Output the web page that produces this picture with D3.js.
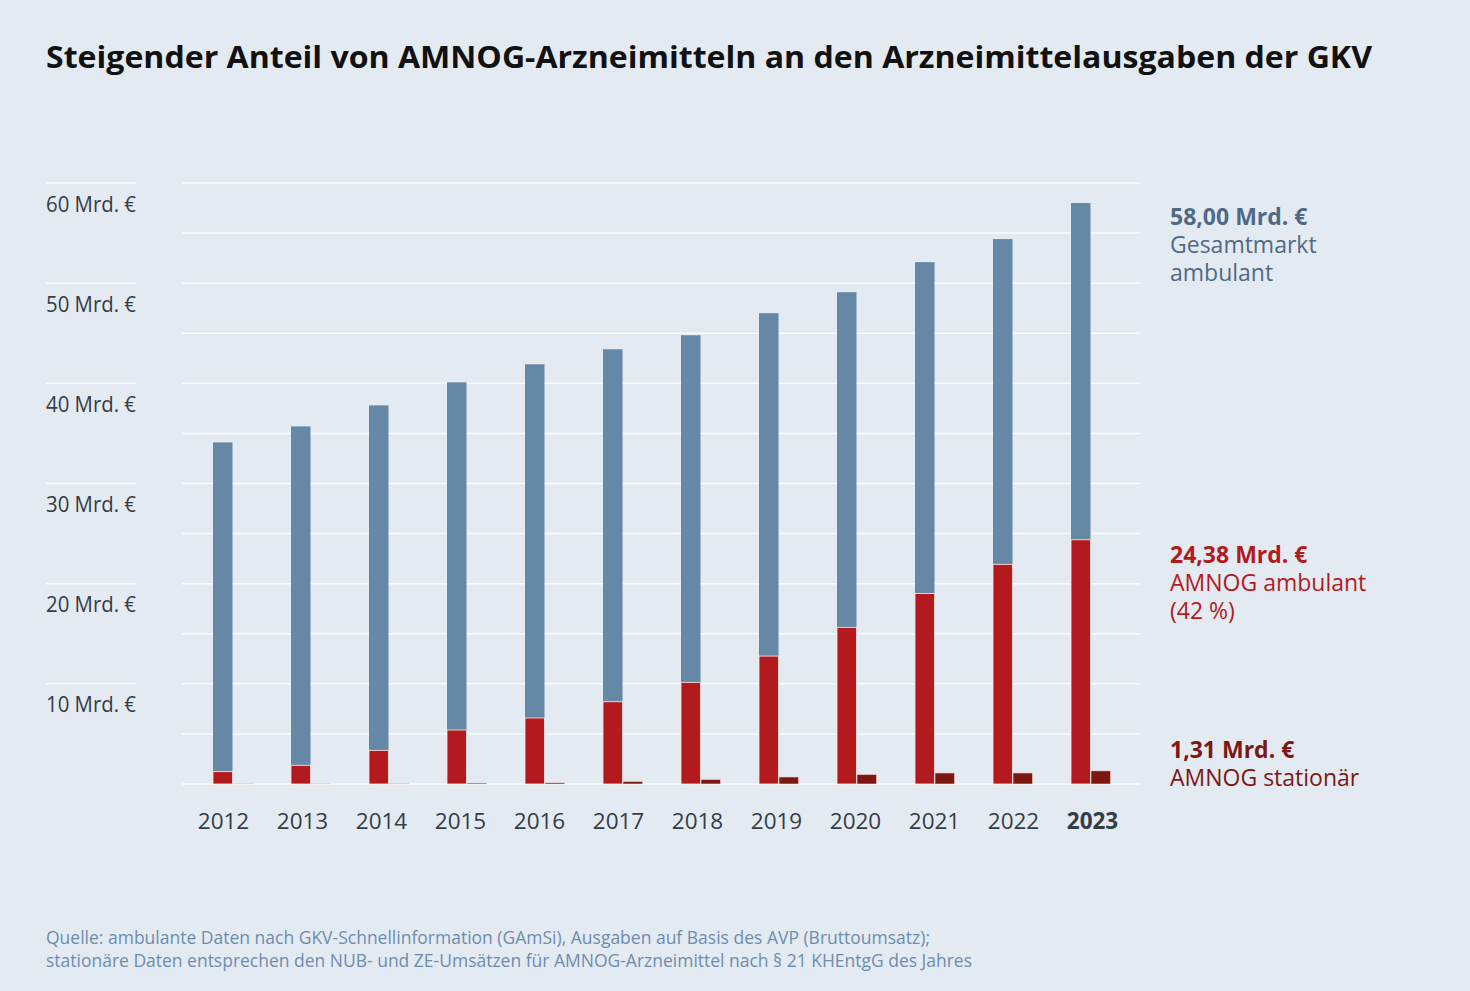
<!DOCTYPE html>
<html lang="de">
<head>
<meta charset="UTF-8">
<title>AMNOG-Arzneimittel</title>
<script src="https://d3js.org/d3.v7.min.js"></script>
<style>
  body { margin: 0; background: #e4eaf2; }
  svg { display: block; font-family: "Open Sans", sans-serif; }
</style>
</head>
<body>
<svg width="1470" height="991"></svg>
<script>
// data (Mrd. €)
const years = ["2012","2013","2014","2015","2016","2017","2018","2019","2020","2021","2022","2023"];
const gesamtAmbulant = [34.1, 35.7, 37.8, 40.1, 41.9, 43.4, 44.8, 47.0, 49.1, 52.1, 54.4, 58.00];
const amnogAmbulant  = [1.23, 1.87, 3.36, 5.39, 6.59, 8.21, 10.15, 12.77, 15.64, 19.03, 21.93, 24.38];
const amnogStationaer = [0.05, 0.05, 0.07, 0.1, 0.12, 0.25, 0.45, 0.7, 0.95, 1.1, 1.1, 1.31];
const yTicks = [10, 20, 30, 40, 50, 60];

const svg = d3.select("svg");
const bg = "#e4eaf2";
svg.append("rect").attr("width", 1470).attr("height", 991).attr("fill", bg);

const y = d3.scaleLinear().domain([0, 60]).range([784, 183]);
const x = d3.scaleBand().domain(years).range([184, 1120]);       // bars
const xLab = d3.scaleBand().domain(years).range([184, 1132]);    // year labels
const bw = 19.5;

// title
svg.append("text")
  .attr("x", 46).attr("y", 68)
  .attr("font-size", 29.5).attr("font-weight", 700).attr("fill", "#111")
  .attr("textLength", 1326).attr("lengthAdjust", "spacingAndGlyphs")
  .text("Steigender Anteil von AMNOG-Arzneimitteln an den Arzneimittelausgaben der GKV");

// gridlines
svg.append("g").selectAll("line")
  .data(d3.range(0, 61, 5))
  .enter().append("line")
  .attr("x1", 182).attr("x2", 1140)
  .attr("y1", d => y(d)).attr("y2", d => y(d))
  .attr("stroke", "#fafcfe").attr("stroke-width", 1.5);

// y labels with short lines above
const yl = svg.append("g").selectAll("g").data(yTicks).enter().append("g");
yl.append("line")
  .attr("x1", 46).attr("x2", 136)
  .attr("y1", d => y(d)).attr("y2", d => y(d))
  .attr("stroke", "#fafcfe").attr("stroke-width", 1.5);
yl.append("text")
  .attr("x", 46).attr("y", d => y(d) + 28.5)
  .attr("font-size", 21).attr("fill", "#333d47")
  .attr("textLength", 90).attr("lengthAdjust", "spacingAndGlyphs")
  .text(d => d + " Mrd. €");

// bars
const bars = svg.append("g").selectAll("g").data(years).enter().append("g");
const cx = d => x(d) + x.bandwidth() / 2;

bars.append("rect")
  .attr("x", d => cx(d) - 10).attr("width", bw)
  .attr("y", (d, i) => y(gesamtAmbulant[i]))
  .attr("height", (d, i) => y(amnogAmbulant[i]) - y(gesamtAmbulant[i]))
  .attr("fill", "#6588a6");

bars.append("rect")
  .attr("x", d => cx(d) - 10).attr("width", bw)
  .attr("y", (d, i) => y(amnogAmbulant[i]))
  .attr("height", (d, i) => y(0) - y(amnogAmbulant[i]))
  .attr("fill", "#b31a1e")
  .attr("stroke", "#fbe9e9").attr("stroke-width", 0.8);

bars.append("rect")
  .attr("x", d => cx(d) + 10).attr("width", bw)
  .attr("y", (d, i) => y(amnogStationaer[i]))
  .attr("height", (d, i) => y(0) - y(amnogStationaer[i]))
  .attr("fill", "#7c1712")
  .attr("stroke", "#f3d9d6").attr("stroke-width", 0.6);

// year labels
svg.append("g").selectAll("text")
  .data(years).enter().append("text")
  .attr("x", d => xLab(d) + xLab.bandwidth() / 2)
  .attr("y", 829)
  .attr("text-anchor", "middle")
  .attr("font-size", 22.5)
  .attr("font-weight", d => d === "2023" ? 700 : 400)
  .attr("fill", "#333d47")
  .text(d => d);

// right annotations
const notes = [
  { y: 224.5, color: "#4f6a86", lines: ["58,00 Mrd. €", "Gesamtmarkt", "ambulant"] },
  { y: 562.5, color: "#b21a1e", lines: ["24,38 Mrd. €", "AMNOG ambulant", "(42 %)"] },
  { y: 757.5, color: "#7c1712", lines: ["1,31 Mrd. €", "AMNOG stationär"] }
];
notes.forEach(n => {
  svg.append("g").selectAll("text")
    .data(n.lines).enter().append("text")
    .attr("x", 1170).attr("y", (d, i) => n.y + i * 28)
    .attr("font-size", 23)
    .attr("font-weight", (d, i) => i === 0 ? 700 : 400)
    .attr("fill", n.color)
    .text(d => d);
});

// source
const source = [
  "Quelle: ambulante Daten nach GKV-Schnellinformation (GAmSi), Ausgaben auf Basis des AVP (Bruttoumsatz);",
  "stationäre Daten entsprechen den NUB- und ZE-Umsätzen für AMNOG-Arzneimittel nach § 21 KHEntgG des Jahres"
];
const sourceLen = [884, 926];
svg.append("g").selectAll("text")
  .data(source).enter().append("text")
  .attr("x", 46).attr("y", (d, i) => 943.5 + i * 23)
  .attr("font-size", 17.3).attr("fill", "#6d8db0")
  .attr("textLength", (d, i) => sourceLen[i]).attr("lengthAdjust", "spacingAndGlyphs")
  .text(d => d);
</script>
</body>
</html>
